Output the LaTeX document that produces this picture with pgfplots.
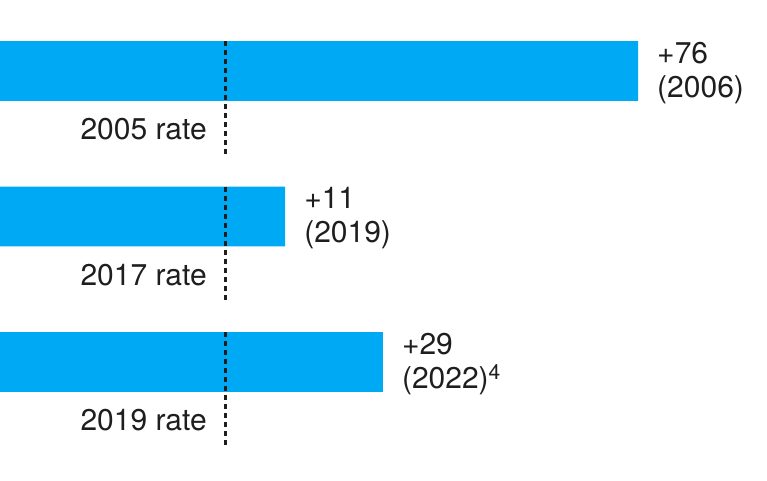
\documentclass[border=0pt]{standalone}
\usepackage{pgfplots}
\usepackage{pgfplotstable}
\usepackage{fontspec}
\setmainfont{TeX Gyre Heros}
\pgfplotsset{compat=1.18}

\definecolor{barblue}{HTML}{00A9F4}
\definecolor{ink}{HTML}{1E1E1E}

% rise above the earlier rate (dashed line), one row per bar
\pgfplotstableread{
row inc yr
0 76 (2006)
1 11 (2019)
2 29 (2022)\textsuperscript{4}
}\risetable

\newcommand{\base}{41.5}

\begin{document}
\begin{tikzpicture}
\begin{axis}[
  width=767pt, height=480pt,
  scale only axis,
  hide axis,
  xmin=0, xmax=141.25,
  ymin=-0.488, ymax=2.811,
  y dir=reverse,
  clip=false,
  font=\fontsize{30}{34}\selectfont,
  /pgf/number format/assume math mode=true,
]
\addplot[
  xbar, bar width=0.412, bar shift=0pt,
  fill=barblue, draw=none,
  point meta=explicit symbolic,
  visualization depends on={\thisrow{inc} \as \inc},
  nodes near coords={+\pgfmathprintnumber[fixed,precision=0]{\inc}\\\pgfplotspointmeta},
  every node near coord/.append style={
    anchor=west, align=left, inner sep=0pt, xshift=19pt, yshift=-2pt,
    text=ink, font=\fontsize{30}{34}\selectfont},
] table[x expr=\thisrow{inc}+\base, y=row, meta=yr] {\risetable};

% dashed markers of the earlier rate
\addplot[ink, line width=2.4pt, dash pattern=on 5pt off 4pt]
  coordinates {(41.5,-0.206) (41.5,0.591)};
\addplot[ink, line width=2.4pt, dash pattern=on 5pt off 4pt]
  coordinates {(41.5,0.794) (41.5,1.588)};
\addplot[ink, line width=2.4pt, dash pattern=on 5pt off 4pt]
  coordinates {(41.5,1.794) (41.5,2.584)};

\node[anchor=base east, inner sep=0pt, text=ink] at (axis cs:38.1,0.474) {2005 rate};
\node[anchor=base east, inner sep=0pt, text=ink] at (axis cs:38.1,1.474) {2017 rate};
\node[anchor=base east, inner sep=0pt, text=ink] at (axis cs:38.1,2.474) {2019 rate};
\end{axis}
\pgfresetboundingbox
\path[use as bounding box] (current axis.south west) rectangle (current axis.north east);
\end{tikzpicture}
\end{document}
